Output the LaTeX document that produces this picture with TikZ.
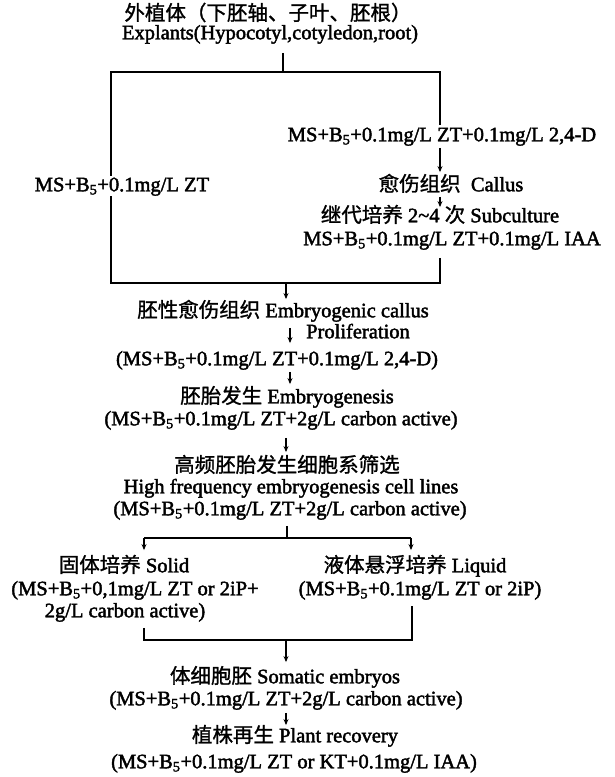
\documentclass[tikz,border=0pt]{standalone}
\usepackage{fontspec}
\setmainfont{Liberation Serif}[FakeBold=2]
\newfontfamily\cjk{Noto Sans CJK SC}[FakeBold=1.2]
\usetikzlibrary{arrows.meta}
\newcommand\Bfive{B\textsubscript{5}}
\newcommand\zh[1]{{\cjk #1}}
\begin{document}
\begin{tikzpicture}[x=1pt,y=-1pt,line join=miter,
  txt/.style={inner sep=0pt,text height=15pt,text depth=4.5pt,
    font=\fontsize{20.5}{22}\selectfont},
  bline/.style={line width=2.4pt},
  bline2/.style={line width=1.8pt},
  arr/.style={line width=1.1pt,-{Stealth[length=6pt,width=5pt]}}]
\fill[white] (0,0) rectangle (614,777);
\useasboundingbox (0,0) rectangle (614,777);
% top
\node[txt] (t1) at (268,15) {\zh{外植体（下胚轴、子叶、胚根）}};
\node[txt] (t2) at (270,34) {Explants(Hypocotyl,cotyledon,root)};
\coordinate (top) at (283,72);
\coordinate (tl) at (111,72);
\coordinate (tr) at (440,72);
\coordinate (bl) at (111,283);
\coordinate (br) at (440,283);
\coordinate (bm) at (286,283);
\coordinate (px) at (290,0);
% right branch
\node[txt] (r1) at (442,136) {MS+\Bfive+0.1mg/L ZT+0.1mg/L 2,4-D};
\node[txt] (lbl) at (122,186) {MS+\Bfive+0.1mg/L ZT};
\node[txt] (cal) at (451,186) {\zh{愈伤组织}\ \ Callus};
\node[txt] (sub) at (440,217) {\zh{继代培养} 2\textasciitilde4 \zh{次} Subculture};
\node[txt] (iaa) at (452,240) {MS+\Bfive+0.1mg/L ZT+0.1mg/L IAA};
% middle column
\node[txt] (ec) at (283,312) {\zh{胚性愈伤组织} Embryogenic callus};
\node[txt,anchor=west] (prol) at (306,333) {Proliferation};
\node[txt] (m1) at (277,360) {(MS+\Bfive+0.1mg/L ZT+0.1mg/L 2,4-D)};
\node[txt] (eg) at (287,398) {\zh{胚胎发生} Embryogenesis};
\node[txt] (m2) at (281,420) {(MS+\Bfive+0.1mg/L ZT+2g/L carbon active)};
\node[txt] (hf1) at (287,467) {\zh{高频胚胎发生细胞系筛选}};
\node[txt] (hf2) at (291,488) {High frequency embryogenesis cell lines};
\node[txt] (m3) at (290,510) {(MS+\Bfive+0.1mg/L ZT+2g/L carbon active)};
\coordinate (sj) at (287,538);
\coordinate (sl) at (144,538);
\coordinate (sr) at (411,538);
\node[txt] (solid) at (124,567) {\zh{固体培养} Solid};
\node[txt] (s2) at (135,590) {(MS+\Bfive+0,1mg/L ZT or 2iP+};
\node[txt] (s3) at (125,612) {2g/L carbon active)};
\node[txt] (liq) at (415,567) {\zh{液体悬浮培养} Liquid};
\node[txt] (l2) at (420,590) {(MS+\Bfive+0.1mg/L ZT or 2iP)};
\coordinate (jl) at (144,640);
\coordinate (jr) at (412,640);
\coordinate (jm) at (286,640);
\node[txt] (se) at (285,678) {\zh{体细胞胚} Somatic embryos};
\node[txt] (m4) at (286,700) {(MS+\Bfive+0.1mg/L ZT+2g/L carbon active)};
\node[txt] (pr) at (295,737) {\zh{植株再生} Plant recovery};
\node[txt] (m5) at (294,763) {(MS+\Bfive+0.1mg/L ZT or KT+0.1mg/L IAA)};
% connectors
\draw[line width=1.6pt,shorten <=9pt] (t2.south -| top) -- (top);
\draw[bline,shorten >=1pt] (lbl.north -| tl) -- (tl) -- (tr) -- (r1.north -| tr);
\draw[bline,shorten <=8pt] (iaa.south -| br) -- (br) -- (bl) -- (lbl.south -| bl);
\draw[arr,shorten <=2pt,shorten >=4pt] (r1.south -| tr) -- (cal.north -| tr);
\draw[arr,shorten <=1pt] (cal.south -| tr) -- (sub.north -| tr);
\draw[arr,shorten >=3pt] (bm) -- (ec.north -| bm);
\draw[arr,shorten <=6pt,shorten >=7pt] (ec.south -| px) -- (m1.north -| px);
\draw[arr,shorten <=2pt,shorten >=4pt] (m1.south -| px) -- (eg.north -| px);
\draw[arr,shorten <=8pt,shorten >=5pt] (m2.south -| bm) -- (hf1.north -| bm);
\draw[bline2,shorten <=6pt] (m3.south -| sj) -- (sj);
\draw[bline2] (sl) -- (sr);
\draw[arr,shorten >=7pt] (sl) -- (solid.north -| sl);
\draw[arr,shorten >=7pt] (sr) -- (liq.north -| sr);
\draw[bline2,shorten <=6pt,shorten >=6pt] (s3.south -| jl) -- (jl) -- (jr) -- (l2.south -| jr);
\draw[arr,shorten >=6pt] (jm) -- (se.north -| jm);
\draw[arr,shorten <=3pt,shorten >=2pt] (m4.south -| jm) -- (pr.north -| jm);
\end{tikzpicture}
\end{document}
